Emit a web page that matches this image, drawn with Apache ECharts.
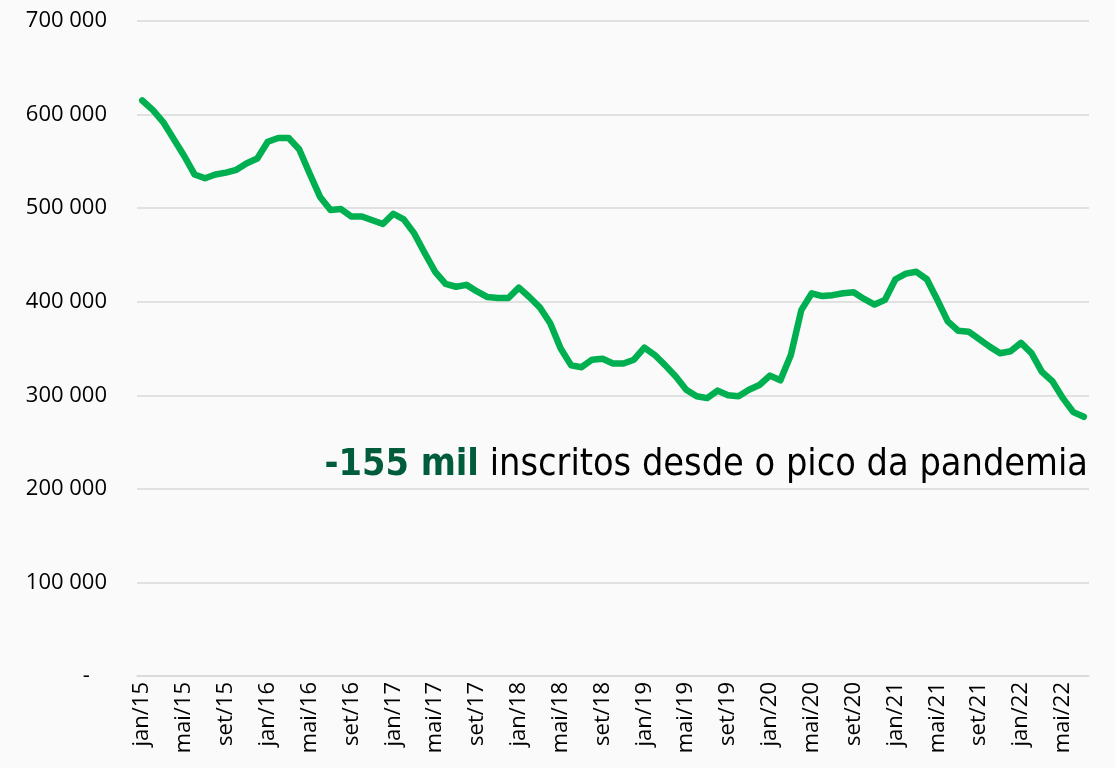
<!DOCTYPE html>
<html>
<head>
<meta charset="utf-8">
<script src="https://cdn.jsdelivr.net/npm/echarts@6/dist/echarts.min.js"></script>
<style>
html,body{margin:0;padding:0;background:#fafafa;}
#chart{width:1115px;height:768px;}
</style>
</head>
<body>
<div id="chart"></div>
<script>
const monthNames = ['jan','fev','mar','abr','mai','jun','jul','ago','set','out','nov','dez'];
const startYear = 15;
const values = [
  615000, 605000, 592000, 574000, 556000, 536000, 532000, 536000, 538000, 541000, 548000, 553000,
  571000, 575000, 575000, 563000, 537000, 512000, 498000, 499000, 491000, 491000, 487000, 483000,
  494000, 488000, 473000, 452000, 432000, 419000, 416000, 418000, 411000, 405000, 404000, 404000,
  415000, 405000, 394000, 377000, 350000, 332000, 330000, 338000, 339000, 334000, 334000, 338000,
  351000, 343000, 332000, 320000, 306000, 299000, 297000, 305000, 300000, 299000, 306000, 311000,
  321000, 316000, 343000, 391000, 409000, 406000, 407000, 409000, 410000, 403000, 397000, 402000,
  424000, 430000, 432000, 424000, 402000, 379000, 369000, 368000, 360000, 352000, 345000, 347000,
  356000, 345000, 325000, 315000, 297000, 282000, 277000
];
const categories = values.map((v, i) => monthNames[i % 12] + '/' + (startYear + Math.floor(i / 12)));
const annotationBold = '-155 mil';
const annotationText = ' inscritos desde o pico da pandemia';

const chart = echarts.init(document.getElementById('chart'));
chart.setOption({
  backgroundColor: '#fafafa',
  animation: false,
  grid: { left: 137, right: 26, top: 21, bottom: 92 },
  xAxis: {
    type: 'category',
    data: categories,
    boundaryGap: true,
    axisLine: { lineStyle: { color: '#d9d9d9', width: 1.5 } },
    axisTick: { interval: 3, length: 6, lineStyle: { color: '#d9d9d9', width: 1.5 } },
    axisLabel: {
      interval: 3, rotate: 90, color: '#000', fontSize: 22,
      fontFamily: 'Open Sans', margin: 6
    }
  },
  yAxis: {
    type: 'value',
    min: 0, max: 700000, interval: 100000,
    axisLine: { show: false },
    axisTick: { show: false },
    splitLine: { lineStyle: { color: '#d9d9d9', width: 1.5 } },
    axisLabel: {
      color: '#000', fontSize: 22, fontFamily: 'Open Sans', margin: 30,
      formatter: function (v) {
        if (v === 0) return '-   ';
        return String(v).replace(/\B(?=(\d{3})+(?!\d))/g, ' ');
      }
    }
  },
  series: [{
    type: 'line',
    data: values,
    symbol: 'none',
    lineStyle: { color: '#00b050', width: 6.5, cap: 'round', join: 'round' },
    itemStyle: { color: '#00b050' }
  }],
  graphic: [{
    type: 'text',
    right: 27,
    top: 446,
    style: {
      text: '{b|' + annotationBold + '}{n|' + annotationText + '}',
      rich: {
        b: { fontFamily: 'DejaVu Sans Condensed', fontWeight: 'bold', fontSize: 37.5, fill: '#005c3a', color: '#005c3a' },
        n: { fontFamily: 'DejaVu Sans Condensed', fontSize: 37.5, fill: '#000', color: '#000' }
      }
    }
  }]
});
</script>
</body>
</html>
